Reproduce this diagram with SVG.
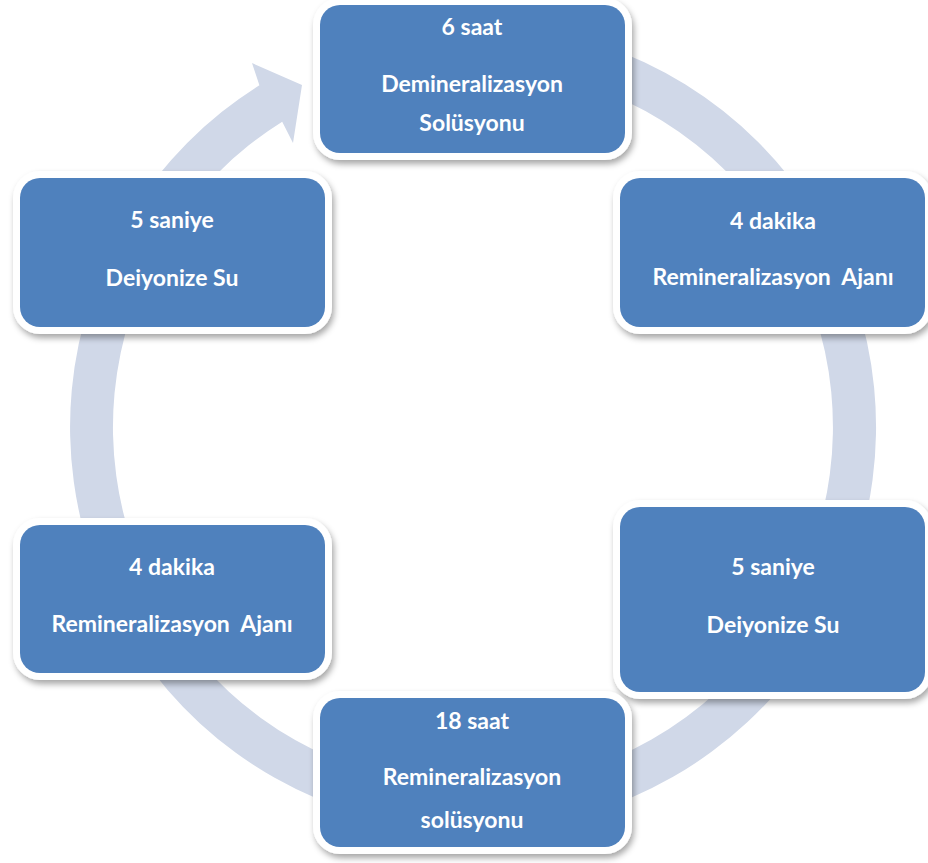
<svg xmlns="http://www.w3.org/2000/svg" width="928" height="863" viewBox="0 0 928 863">
<defs>
<filter id="sh" x="-10%" y="-10%" width="125%" height="130%">
<feDropShadow dx="2" dy="4" stdDeviation="3" flood-color="#000" flood-opacity="0.35"/>
</filter>
<style>
.frame{fill:#fff;filter:url(#sh)}
.box{fill:#4F81BD}
.t{font-family:Lato,"Open Sans",sans-serif;font-weight:bold;font-size:23px;fill:#fff;text-anchor:middle}
.ring{fill:#D0D8E8}
</style>
</defs>
<rect width="928" height="863" fill="#fff"/>
<g id="connectors">
<path class="ring" d="M556.8,32.8 A403,403 0 1 1 259.4,85.3 L252,63 L302,85 L293,143 L282.2,121.7 A360,360 0 1 0 547.9,74.9 Z"/>
</g>
<g id="node1">
<rect class="frame" x="313" y="-2" width="319" height="162" rx="27"/>
<rect class="box" x="320" y="5" width="305" height="148" rx="20"/>
<text class="t" x="472" y="35">6 saat</text>
<text class="t" x="472" y="92">Demineralizasyon</text>
<text class="t" x="472" y="131">Solüsyonu</text>
</g>
<g id="node2">
<rect class="frame" x="613" y="171" width="319" height="163" rx="27"/>
<rect class="box" x="620" y="178" width="305" height="149" rx="20"/>
<text class="t" x="773" y="229">4 dakika</text>
<text class="t" x="773" y="285" xml:space="preserve">Remineralizasyon  Ajanı</text>
</g>
<g id="node3">
<rect class="frame" x="613" y="500" width="319" height="199" rx="27"/>
<rect class="box" x="620" y="507" width="305" height="185" rx="20"/>
<text class="t" x="773" y="575">5 saniye</text>
<text class="t" x="773" y="633">Deiyonize Su</text>
</g>
<g id="node4">
<rect class="frame" x="313" y="691" width="319" height="163" rx="27"/>
<rect class="box" x="320" y="698" width="305" height="149" rx="20"/>
<text class="t" x="472" y="729">18 saat</text>
<text class="t" x="472" y="785">Remineralizasyon</text>
<text class="t" x="472" y="828">solüsyonu</text>
</g>
<g id="node5">
<rect class="frame" x="13" y="518" width="319" height="162" rx="27"/>
<rect class="box" x="20" y="525" width="305" height="148" rx="20"/>
<text class="t" x="172" y="575">4 dakika</text>
<text class="t" x="172" y="632" xml:space="preserve">Remineralizasyon  Ajanı</text>
</g>
<g id="node6">
<rect class="frame" x="13" y="171" width="319" height="163" rx="27"/>
<rect class="box" x="20" y="178" width="305" height="149" rx="20"/>
<text class="t" x="172" y="228">5 saniye</text>
<text class="t" x="172" y="286">Deiyonize Su</text>
</g>
</svg>
